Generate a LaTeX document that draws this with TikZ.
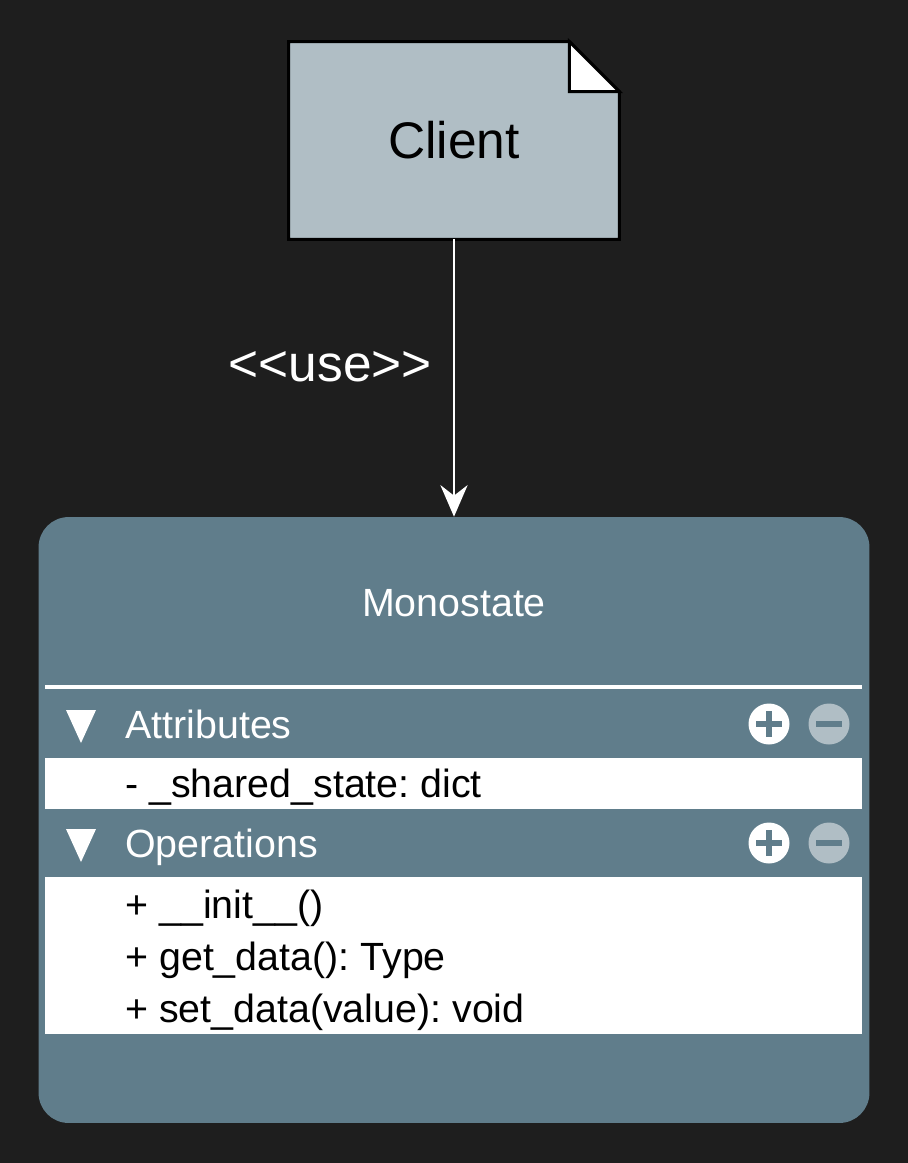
\documentclass[tikz,border=0pt]{standalone}
\usepackage{fontspec}
\setmainfont{Liberation Sans}
\usetikzlibrary{arrows.meta,backgrounds}

\definecolor{canvas}{HTML}{1E1E1E}
\definecolor{slate}{HTML}{607D8B}
\definecolor{mist}{HTML}{B0BEC5}

\frenchspacing

\begin{document}
\begin{tikzpicture}[x=0.02cm, y=-0.02cm]

    \tikzset{note/.style={%
      rectangle,%
      minimum width=6.6cm,%
      minimum height=3.94cm,%
      font=\fontsize{29.3}{34}\selectfont}%
    };
    \tikzset{umlclass/.style={%
      fill=slate,%
      rectangle,%
      rounded corners=0.6cm,%
      minimum width=16.62cm,%
      minimum height=12.12cm}%
    };

    \tikzset{member/.style={anchor=base west, inner sep=0pt, font=\fontsize{22.4}{26}\selectfont}};
    \tikzset{section/.style={member, text=white}};
    \tikzset{uses/.style={draw=white, line width=1.3pt, -{Stealth[length=18pt, width=15.5pt, inset=6pt]}}};
    \tikzset{bar/.style={slate, line width=3.4pt}};

    \useasboundingbox (0,0) rectangle (908,1163);

    %%%%%%%%%%
    % client %
    %%%%%%%%%%
    \path (454,140.5) node [note] (client) {Client};

    \begin{pgfonlayer}{background}
      \fill[canvas] (0,0) rectangle (908,1163);
      \filldraw[fill=mist, draw=black, line width=1.7pt]
        (client.north west) -- ([xshift=-1cm]client.north east)
        -- ([yshift=-1cm]client.north east) -- (client.south east)
        -- (client.south west) -- cycle;
      \filldraw[fill=white, draw=black, line width=1.7pt]
        ([xshift=-1cm]client.north east) -- ([xshift=-1cm, yshift=-1cm]client.north east)
        -- ([yshift=-1cm]client.north east) -- cycle;
    \end{pgfonlayer}

    %%%%%%%%%%%%%
    % monostate %
    %%%%%%%%%%%%%
    \path (454,820) node [umlclass] (mono) {};

    \path (454,616) node [anchor=base, text=white, font=\fontsize{22.4}{26}\selectfont] (title) {Monostate};

    \draw[white, line width=2.3pt] (45,687) -- (862,687);
    \fill[white] (45,758) rectangle (862,809);
    \fill[white] (45,877) rectangle (862,1034);

    \path (125,738) node [section] (attrhead) {Attributes};
    \path (125,797) node [member] (attr1) {- \_shared\_state: dict};

    \path (125,857) node [section] (ophead) {Operations};
    \path (125,918) node [member] (op1) {+ \_\_init\_\_()};
    \path (125,970) node [member] (op2) {+ get\_data(): Type};
    \path (125,1022) node [member] (op3) {+ set\_data(value): void};

    % toggles and buttons
    \foreach \y in {724,843} {
      \fill[white] (66,\y-14) -- (96,\y-14) -- (81,\y+19) -- cycle;
      \fill[white] (769,\y) circle (0.41cm);
      \draw[bar] (756,\y) -- (782,\y) (769,\y-13) -- (769,\y+13);
      \fill[mist] (829,\y) circle (0.41cm);
      \draw[bar] (816,\y) -- (842,\y);
    }

    \draw [uses] (client.south) -- node [pos=0.46, anchor=east, inner sep=0pt, xshift=-0.42cm,
      text=white, font=\fontsize{29.3}{34}\selectfont] (uselbl)
      {<\kern0pt<use>\kern0pt>} (mono.north);

\end{tikzpicture}
\end{document}
